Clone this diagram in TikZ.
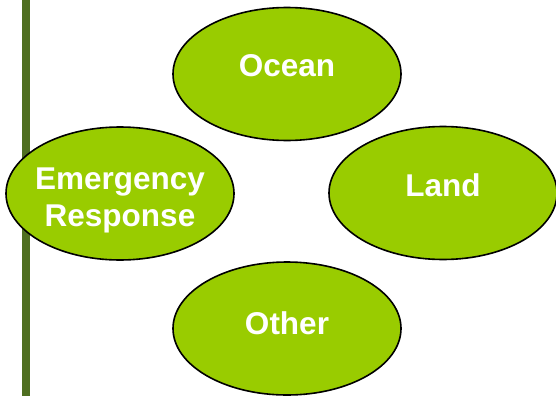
\documentclass[tikz,border=0pt]{standalone}
\usepackage{fontspec}
\setmainfont{Liberation Sans}
\usetikzlibrary{shapes.geometric}
\definecolor{leaf}{RGB}{153,204,0}
\definecolor{bar}{RGB}{79,111,33}
\begin{document}
\begin{tikzpicture}[x=1pt,y=-1pt,
  blob/.style={ellipse, draw=black, line width=1.6pt, fill=leaf, minimum width=228pt, minimum height=133pt, inner sep=0pt},
  lbl/.style={text=white, font=\fontsize{31.5}{37}\selectfont\bfseries, align=center}]
\useasboundingbox (0,0) rectangle (556,396);
\fill[bar] (22,0) rectangle (30,396);
\node[blob] (ocean) at (287,74) {};
\node[blob] (land) at (443,193) {};
\node[blob] (emerg) at (120,193.5) {};
\node[blob] (other) at (287,328.5) {};
\node[lbl] (toc) at ([yshift=8pt]ocean.center) {Ocean};
\node[lbl] (tla) at ([yshift=8pt]land.center) {Land};
\node[lbl] (tem) at ([yshift=-7pt]emerg.center) {Emergency\\Response};
\node[lbl] (tot) at ([yshift=5pt]other.center) {Other};
\end{tikzpicture}
\end{document}
